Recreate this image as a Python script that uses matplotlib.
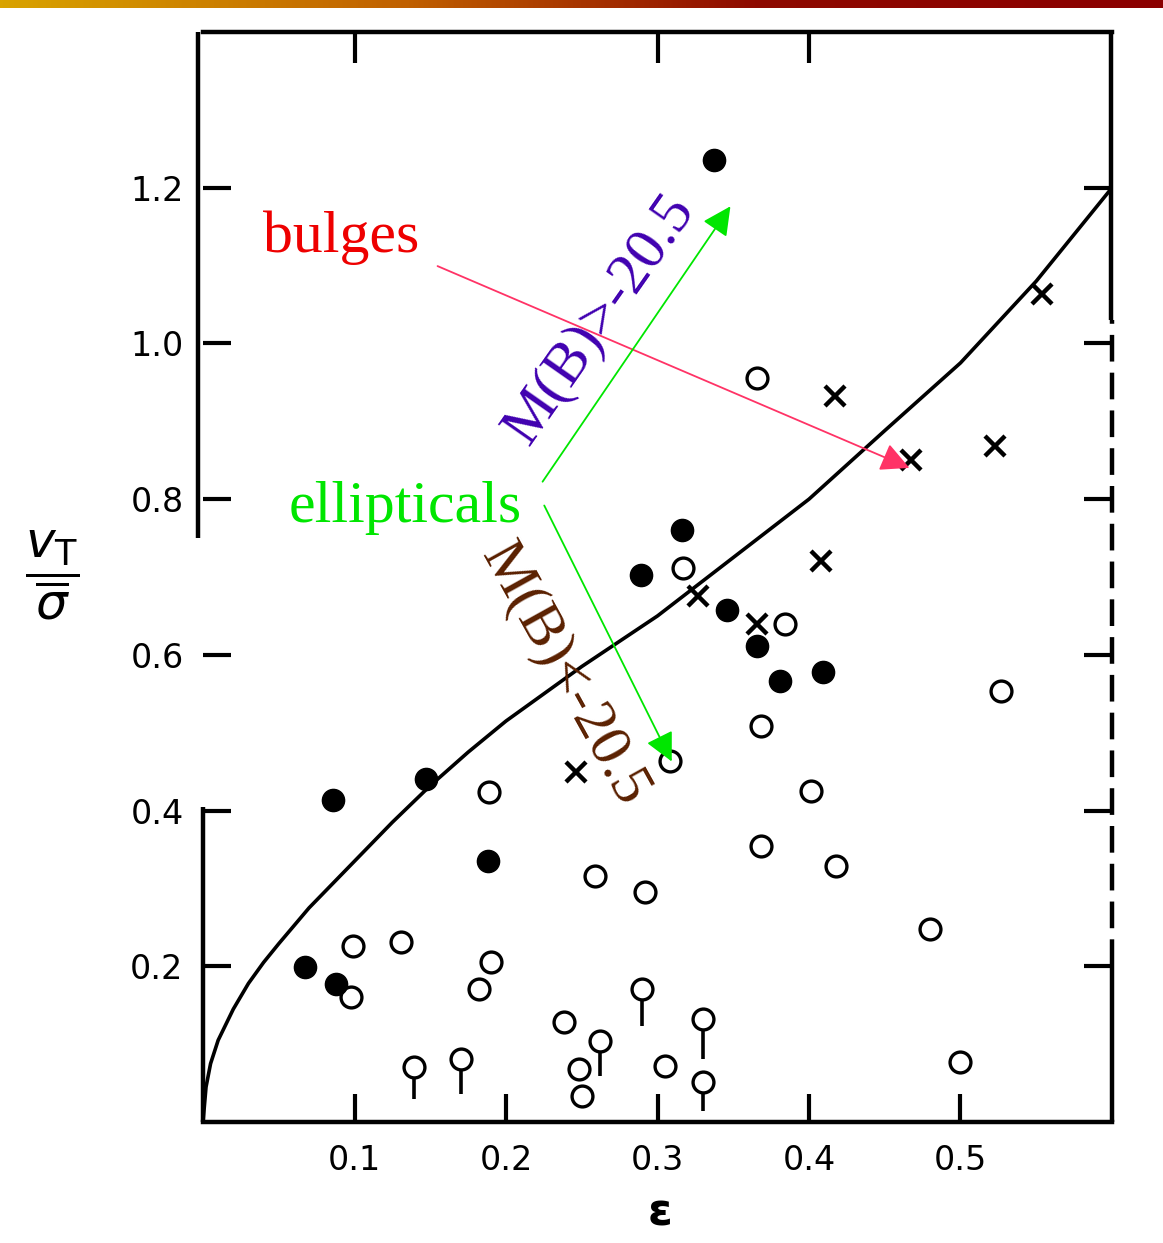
import numpy as np
import matplotlib
matplotlib.use("Agg")
import matplotlib.pyplot as plt
from matplotlib.colors import LinearSegmentedColormap

# ---------------- data ----------------
# model curve for isotropic oblate rotators
curve_eps = [0.0, 0.002, 0.005, 0.01, 0.02, 0.03, 0.04, 0.05, 0.07, 0.10,
             0.125, 0.15, 0.175, 0.20, 0.25, 0.30, 0.35, 0.40, 0.45, 0.50,
             0.55, 0.60]
curve_v = [0.0, 0.045, 0.075, 0.105, 0.145, 0.178, 0.205, 0.229, 0.275, 0.335,
           0.385, 0.432, 0.475, 0.515, 0.585, 0.650, 0.725, 0.800, 0.888,
           0.975, 1.080, 1.200]

filled_eps = [0.337, 0.316, 0.289, 0.346, 0.366, 0.381, 0.409, 0.147, 0.086,
              0.188, 0.067, 0.088]
filled_v = [1.235, 0.760, 0.702, 0.657, 0.612, 0.567, 0.578, 0.441, 0.413,
            0.335, 0.199, 0.177]

open_eps = [0.366, 0.317, 0.384, 0.368, 0.189, 0.401, 0.368, 0.418, 0.259,
            0.292, 0.527, 0.480, 0.500, 0.308, 0.099, 0.131, 0.190, 0.182,
            0.098, 0.238, 0.248, 0.250, 0.305]
open_v = [0.955, 0.711, 0.640, 0.509, 0.424, 0.425, 0.355, 0.329, 0.316,
          0.296, 0.553, 0.248, 0.077, 0.464, 0.226, 0.231, 0.206, 0.171,
          0.160, 0.128, 0.068, 0.033, 0.072]

cross_eps = [0.554, 0.417, 0.467, 0.523, 0.408, 0.327, 0.366, 0.246]
cross_v = [1.064, 0.933, 0.850, 0.868, 0.721, 0.675, 0.640, 0.450]

tail_eps = [0.139, 0.170, 0.290, 0.262, 0.330, 0.330]
tail_v = [0.071, 0.081, 0.171, 0.104, 0.132, 0.051]
tail_lo = [0.030, 0.036, 0.123, 0.059, 0.081, 0.014]

x_ticks = [0.1, 0.2, 0.3, 0.4, 0.5]
x_ticklabels = ["0.1", "0.2", "0.3", "0.4", "0.5"]
top_ticks = [0.1, 0.3, 0.4]
y_ticks = [0.2, 0.4, 0.6, 0.8, 1.0, 1.2]
y_ticklabels = ["0.2", "0.4", "0.6", "0.8", "1.0", "1.2"]

# ---------------- figure ----------------
W, H = 1163, 1243
fig = plt.figure(figsize=(W / 100, H / 100), dpi=100)
fig.patch.set_facecolor("white")

def fx(px):
    return px / W

def fy(py):
    return 1 - py / H

# slide decoration bar at top
bar = fig.add_axes([0, fy(8), 1, 8 / H])
cmap = LinearSegmentedColormap.from_list(
    "slide", [(0.0, "#d9a300"), (0.35, "#c06000"), (0.65, "#8e0a00"), (1.0, "#8b0000")])
bar.imshow(np.linspace(0, 1, 500)[None, :], aspect="auto", cmap=cmap)
bar.set_axis_off()

ax = fig.add_axes([fx(203), fy(1122), fx(1112) - fx(203), fy(32) - fy(1122)])
ax.set_xlim(0, 0.6)
ax.set_ylim(0, 1.4)

# frame: top/bottom full, sides broken as in the scan
for s in ["left", "right"]:
    ax.spines[s].set_visible(False)
for s in ["top", "bottom"]:
    ax.spines[s].set_linewidth(3.2)
ytr = ax.get_yaxis_transform()
ax.plot([0, 0], [0, 0.405], color="black", lw=3.2, transform=ytr, clip_on=False,
        solid_capstyle="butt")
ax.plot([-0.006, -0.006], [0.75, 1.4], color="black", lw=3.2, transform=ytr,
        clip_on=False, solid_capstyle="butt")
ax.plot([1, 1], [0, 0.2], color="black", lw=3.2, transform=ytr, clip_on=False,
        solid_capstyle="butt")
ax.plot([1, 1], [0.2, 1.03], color="black", lw=3.2, transform=ytr, clip_on=False,
        linestyle=(0, (6, 2.5)))
ax.plot([0.999, 0.999], [1.03, 1.4], color="black", lw=3.2, transform=ytr,
        clip_on=False, solid_capstyle="butt")

ax.set_xticks(x_ticks)
ax.set_xticklabels(x_ticklabels)
ax.set_yticks(y_ticks)
ax.set_yticklabels(y_ticklabels)
ax.tick_params(axis="both", direction="in", length=20, width=3, colors="black",
               labelsize=24, top=False, right=True)
ax.tick_params(axis="y", pad=14)
ax.tick_params(axis="x", pad=16)
sec = ax.secondary_xaxis("top")
sec.set_xticks(top_ticks)
sec.tick_params(direction="in", length=22, width=3, labeltop=False)
sec.spines["top"].set_visible(False)

# theoretical curve
ax.plot(curve_eps, curve_v, color="black", lw=2.6, zorder=2,
        solid_joinstyle="round")

# data
ax.vlines(tail_eps, tail_lo, tail_v, color="black", lw=2.6, zorder=3)
ax.plot(tail_eps, tail_v, "o", ms=15, mfc="white", mec="black", mew=2.4,
        zorder=4, linestyle="none")
ax.plot(open_eps, open_v, "o", ms=15, mfc="none", mec="black", mew=2.4,
        zorder=4, linestyle="none")
ax.plot(filled_eps, filled_v, "o", ms=16, mfc="black", mec="black",
        zorder=5, linestyle="none")
ax.plot(cross_eps, cross_v, "x", ms=14, mec="black", mew=3.2,
        zorder=5, linestyle="none")

# axis labels
fig.text(fx(52), fy(575), r"$\dfrac{v_{\mathrm{T}}}{\overline{\sigma}}$",
         fontsize=36, ha="center", va="center", color="black")
fig.text(fx(660), fy(1213), "ε", fontsize=32, fontweight="bold",
         ha="center", va="center", color="black")

# annotations
serif = ["Liberation Serif", "DejaVu Serif"]
fig.text(fx(341), fy(238), "bulges", fontsize=43, family=serif,
         color="#ee0000", ha="center", va="center")
fig.text(fx(405), fy(508), "ellipticals", fontsize=43, family=serif,
         color="#00e600", ha="center", va="center")
fig.text(fx(600), fy(320), "M(B)>-20.5", fontsize=43, family=serif,
         color="#4000b0", ha="center", va="center", rotation=55,
         rotation_mode="anchor")
fig.text(fx(564), fy(674), "M(B)<-20.5", fontsize=43, family=serif,
         color="#5a2000", ha="center", va="center", rotation=-61,
         rotation_mode="anchor")

def arrow(p0, p1, color):
    fig.add_artist(matplotlib.patches.FancyArrowPatch(
        (fx(p0[0]), fy(p0[1])), (fx(p1[0]), fy(p1[1])),
        transform=fig.transFigure, arrowstyle="-|>,head_length=11,head_width=5.5",
        mutation_scale=1.6, color=color, lw=1.3, zorder=10))

arrow((435, 265), (912, 469), "#ff3366")
arrow((541, 484), (732, 204), "#00e600")
arrow((543, 503), (673, 764), "#00e600")

fig.savefig("out.png", dpi=100, facecolor="white")
